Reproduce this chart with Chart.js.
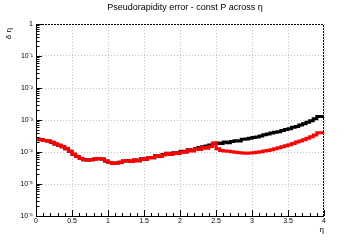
<!DOCTYPE html>
<html><head><meta charset="utf-8">
<script src="https://cdn.jsdelivr.net/npm/chart.js@4"></script>
<style>html,body{margin:0;padding:0;background:#fff}#wrap{width:360px;height:240px}canvas{display:block}</style>
</head><body><div id="wrap"><canvas id="c" width="360" height="240" style="width:360px;height:240px"></canvas></div>
<script>
const titleText = 'Pseudorapidity error - const P across \u03b7';
const xTitle = '\u03b7';
const yTitle = '\u03b4 \u03b7';
// bin low edges in eta
const eta = [0.00,0.05,0.10,0.15,0.20,0.25,0.30,0.35,0.40,0.45,0.50,0.55,0.60,0.65,0.70,0.75,0.80,0.85,0.90,0.95,
1.00,1.05,1.10,1.15,1.20,1.25,1.30,1.35,1.40,1.45,1.50,1.55,1.60,1.65,1.70,1.75,1.80,1.85,1.90,1.95,
2.00,2.05,2.10,2.15,2.20,2.25,2.30,2.35,2.40,2.45,2.50,2.55,2.60,2.65,2.70,2.75,2.80,2.85,2.90,2.95,
3.00,3.05,3.10,3.15,3.20,3.25,3.30,3.35,3.40,3.45,3.50,3.55,3.60,3.65,3.70,3.75,3.80,3.85,3.90,3.95];
const etaMax = 4;
const redErr = [2.57e-4,2.51e-4,2.40e-4,2.29e-4,2.19e-4,2.00e-4,1.78e-4,1.62e-4,1.45e-4,1.26e-4,
1.05e-4,8.51e-5,7.24e-5,6.31e-5,5.75e-5,5.62e-5,5.75e-5,6.03e-5,6.31e-5,6.03e-5,
5.25e-5,4.68e-5,4.37e-5,4.57e-5,4.79e-5,5.25e-5,5.37e-5,5.01e-5,5.62e-5,5.37e-5,
6.17e-5,5.89e-5,6.76e-5,6.61e-5,7.76e-5,7.24e-5,8.13e-5,8.91e-5,8.32e-5,9.33e-5,
8.91e-5,1.02e-4,9.77e-5,1.15e-4,1.07e-4,1.26e-4,1.20e-4,1.38e-4,1.32e-4,1.48e-4,
1.91e-4,1.26e-4,1.12e-4,1.07e-4,1.05e-4,1.02e-4,9.77e-5,9.55e-5,9.33e-5,9.12e-5,
9.33e-5,9.55e-5,9.77e-5,1.02e-4,1.07e-4,1.12e-4,1.17e-4,1.26e-4,1.35e-4,1.45e-4,
1.58e-4,1.70e-4,1.86e-4,2.04e-4,2.19e-4,2.40e-4,2.69e-4,3.02e-4,3.39e-4,3.98e-4];
const blackErr = [2.57e-4,2.51e-4,2.40e-4,2.29e-4,2.19e-4,2.00e-4,1.78e-4,1.62e-4,1.45e-4,1.26e-4,
1.05e-4,8.51e-5,7.24e-5,6.31e-5,5.75e-5,5.62e-5,5.75e-5,6.03e-5,6.31e-5,6.03e-5,
5.25e-5,4.68e-5,4.37e-5,4.57e-5,4.79e-5,5.25e-5,5.37e-5,5.01e-5,5.62e-5,5.37e-5,
6.17e-5,5.89e-5,6.76e-5,6.61e-5,7.76e-5,7.24e-5,8.32e-5,9.12e-5,8.71e-5,9.55e-5,
9.33e-5,1.05e-4,1.02e-4,1.17e-4,1.12e-4,1.29e-4,1.38e-4,1.45e-4,1.55e-4,1.66e-4,
1.82e-4,1.91e-4,1.86e-4,2.04e-4,1.95e-4,2.14e-4,2.24e-4,2.19e-4,2.51e-4,2.57e-4,
2.69e-4,2.82e-4,2.95e-4,3.16e-4,3.47e-4,3.63e-4,3.89e-4,4.17e-4,4.27e-4,4.68e-4,
5.01e-4,5.37e-4,5.89e-4,6.31e-4,6.92e-4,7.59e-4,8.51e-4,9.55e-4,1.10e-3,1.29e-3];
const xTickValues = [0,0.5,1,1.5,2,2.5,3,3.5,4];
const xTickLabels = ['0','0.5','1','1.5','2','2.5','3','3.5','4'];
const yTickValues = [1e-6,1e-5,1e-4,1e-3,1e-2,1e-1,1];
const yTickLabels = ['10\u207b\u2076','10\u207b\u2075','10\u207b\u2074','10\u207b\u00b3','10\u207b\u00b2','10\u207b\u00b9','1'];

function pts(vals){
  const p = eta.map((x,i)=>({x:x,y:vals[i]}));
  p.push({x:etaMax,y:vals[vals.length-1]});
  return p;
}
const FONT = '"Liberation Sans", Arial, sans-serif';

const rootPlugin = {
  id:'rootStyle',
  afterDraw(chart){
    const ctx = chart.ctx, a = chart.chartArea;
    const xs = chart.scales.x, ys = chart.scales.y;
    ctx.save();
    ctx.strokeStyle = '#000'; ctx.lineWidth = 1;
    ctx.setLineDash([]);
    ctx.beginPath();
    ctx.moveTo(a.left+0.5, a.top); ctx.lineTo(a.left+0.5, a.bottom+0.5); ctx.lineTo(a.right, a.bottom+0.5);
    ctx.stroke();
    ctx.setLineDash([2,1]);
    ctx.beginPath();
    ctx.moveTo(a.left, a.top+0.5); ctx.lineTo(a.right-0.5, a.top+0.5); ctx.lineTo(a.right-0.5, a.bottom);
    ctx.stroke();
    ctx.setLineDash([]);
    ctx.beginPath();
    for(let k=0;k<=40;k++){
      const v = k/10;
      const px = Math.round(xs.getPixelForValue(v))+0.5;
      const len = (k%5===0)?6:3;
      ctx.moveTo(px, a.bottom); ctx.lineTo(px, a.bottom-len);
    }
    for(let e=-6;e<=0;e++){
      for(let m=1;m<=9;m++){
        const v = m*Math.pow(10,e);
        if(v>1.0000001) break;
        const py = Math.round(ys.getPixelForValue(v))+0.5;
        const len = (m===1)?6:3.5;
        ctx.moveTo(a.left, py); ctx.lineTo(a.left+len, py);
      }
    }
    ctx.stroke();
    ctx.fillStyle = '#000';
    ctx.font = '9px '+FONT;
    ctx.textAlign = 'center'; ctx.textBaseline = 'middle';
    ctx.fillText(titleText, 185, 8);
    ctx.font = '8px '+FONT;
    ctx.textAlign = 'right'; ctx.textBaseline = 'top';
    ctx.fillText(xTitle, a.right, 226);
    ctx.translate(9, a.top+4);
    ctx.rotate(-Math.PI/2);
    ctx.textAlign = 'right'; ctx.textBaseline = 'middle';
    ctx.fillText(yTitle, 0, 0);
    ctx.restore();
  }
};

new Chart(document.getElementById('c'), {
  type:'line',
  data:{datasets:[
    {label:'black', data:pts(blackErr), borderColor:'#000', borderWidth:3, stepped:'after', pointRadius:0, fill:false, order:2},
    {label:'red', data:pts(redErr), borderColor:'#ff0000', borderWidth:3, stepped:'after', pointRadius:0, fill:false, order:1}
  ]},
  plugins:[rootPlugin],
  options:{
    responsive:false, maintainAspectRatio:false, animation:false,
    devicePixelRatio:1,
    layout:{padding:{top:24, right:36, left:0, bottom:0}},
    plugins:{legend:{display:false}, tooltip:{enabled:false}, title:{display:false}},
    scales:{
      x:{type:'linear', min:0, max:4,
        afterBuildTicks(s){ s.ticks = xTickValues.map(v=>({value:v})); },
        afterFit(s){ s.height = 24; },
        ticks:{autoSkip:false, maxRotation:0, padding:1, color:'#000', font:{family:FONT,size:7},
          callback:(v,i)=>xTickLabels[i]},
        grid:{color:'#c4c4c4', lineWidth:1, drawTicks:false, tickLength:0},
        border:{display:false, dash:[1,2]}
      },
      y:{type:'logarithmic', min:1e-6, max:1,
        afterBuildTicks(s){ s.ticks = yTickValues.map(v=>({value:v})); },
        afterFit(s){ s.width = 36; },
        ticks:{autoSkip:false, padding:3, color:'#000', font:{family:FONT,size:7},
          callback:(v,i)=>yTickLabels[i]},
        grid:{color:'#c4c4c4', lineWidth:1, drawTicks:false, tickLength:0},
        border:{display:false, dash:[1,2]}
      }
    }
  }
});
</script>
</body></html>
